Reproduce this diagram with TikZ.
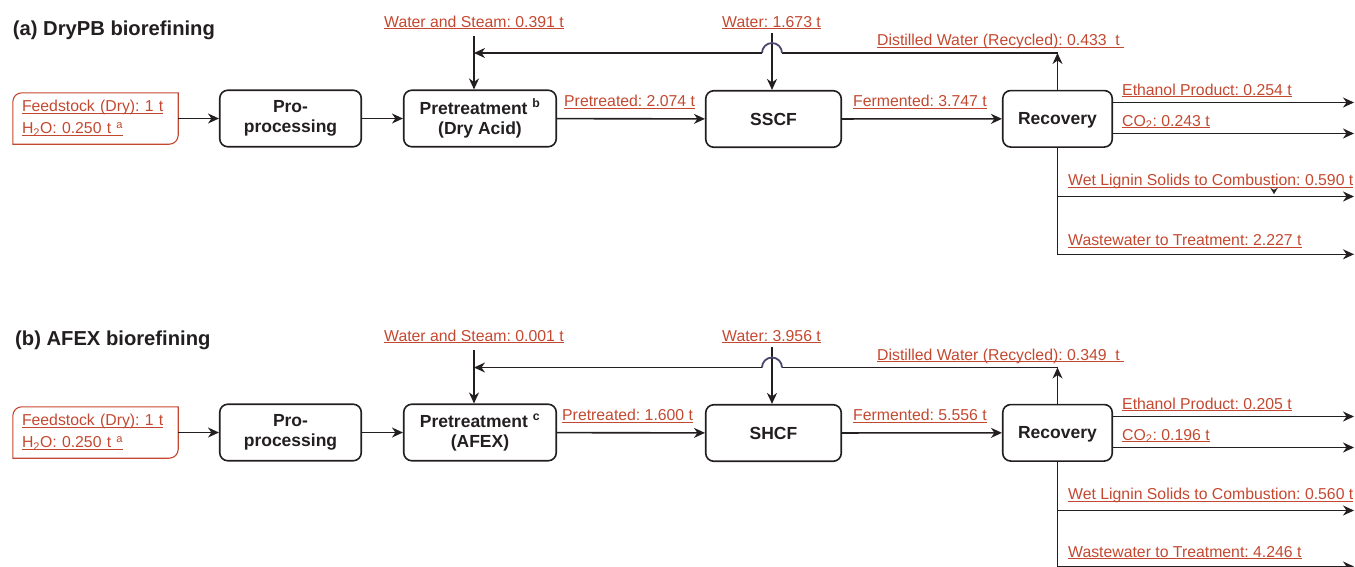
\documentclass[tikz,border=0pt]{standalone}
\usepackage{fontspec}
\setmainfont{Liberation Sans}
\usetikzlibrary{arrows.meta}
\frenchspacing

\definecolor{flowred}{RGB}{196,72,48}
\definecolor{boxdark}{RGB}{35,31,32}
\definecolor{hopblue}{RGB}{75,72,112}

\newcommand\flowtag[1]{\leavevmode\setbox0\hbox{#1}\rlap{\rule[-2.2pt]{\wd0}{0.9pt}}\box0}

\tikzset{
  unitbox/.style={draw=boxdark,line width=1.6pt,rounded corners=8pt,minimum height=56.5pt,inner sep=0pt,align=center,text=boxdark,font=\fontsize{17.5}{20}\selectfont\bfseries},
  feedbox/.style={inner xsep=9pt,inner ysep=0pt,minimum height=51pt,text width=147pt,align=left,text=flowred,font=\fontsize{15.8}{22}\selectfont},
  feedline/.style={draw=flowred,line width=1.1pt},
  flowtext/.style={anchor=base west,inner sep=0pt,text=flowred,font=\fontsize{15.8}{19}\selectfont},
  paneltitle/.style={anchor=base west,inner sep=0pt,text=boxdark,font=\fontsize{20.2}{24}\selectfont\bfseries},
  arr/.style={draw=boxdark,line width=1.6pt,-{Stealth[length=11pt,width=10pt,inset=3.5pt]}},
  pipe/.style={draw=boxdark,line width=1.6pt},
  hop/.style={draw=hopblue,line width=1.8pt},
  tick/.style={draw=boxdark,line width=0.01pt,-{Stealth[length=6pt,width=7pt]}}
}

\begin{document}
\begin{tikzpicture}[x=1pt,y=-1pt]

\useasboundingbox (0,0) rectangle (1355,566);

% (a) DryPB biorefining
\node[paneltitle]
(titleA)
at (12.7,35)
{(a) DryPB biorefining};

\node[feedbox]
(feedA)
at (95.5,118.5)
{\flowtag{Feedstock (Dry): 1 t}\\\flowtag{H\textsubscript{2}O: 0.250 t \textsuperscript{a}}};

\draw[feedline]
(feedA.north east)
-- ([xshift=9pt]feedA.north west)
arc[start angle=90,end angle=180,radius=9pt]
-- (feedA.south west)
-- ([xshift=-9pt]feedA.south east)
arc[start angle=270,end angle=360,radius=9pt]
-- cycle;

\node[unitbox,minimum width=141.5pt]
(proA)
at (290.5,118.5)
{Pro-\\processing};

\node[unitbox,minimum width=152.5pt]
(preA)
at (480,118.5)
{Pretreatment \textsuperscript{b}\\(Dry Acid)};

\node[unitbox,minimum width=135.5pt,text depth=0pt]
(sscfA)
at (773.5,119)
{SSCF};

\node[unitbox,minimum width=109.5pt,text depth=0pt]
(recA)
at (1057.5,118.8)
{Recovery};

\coordinate (steamA) at (474,36);
\coordinate (waterA) at (772,33);
\coordinate (loopA) at (1057.5,53);
\coordinate (hopRA) at (782,53);
\coordinate (hopLA) at (762,53);
\coordinate (ethA) at (1354,102.5);
\coordinate (coA) at (1354,133.5);
\coordinate (ligA) at (1354,196.5);
\coordinate (wasteA) at (1354,254.3);
\coordinate (strayTopA) at (1274,187.5);
\coordinate (strayTipA) at (1274,194);

\draw[arr] (feedA) -- (proA);
\draw[arr] (proA) -- (preA);
\draw[arr] (preA) -- (sscfA);
\draw[arr] (sscfA) -- (recA);

\draw[arr] (steamA) -- (steamA |- preA.north);
\draw[arr] (waterA) -- (waterA |- sscfA.north);

\draw[arr] (recA) -- (loopA);
\draw[pipe] (loopA) -- (hopRA);
\draw[hop] (hopRA) arc[start angle=0,end angle=180,radius=10pt];
\draw[arr] (hopLA) -- (steamA |- loopA);

\draw[arr] (recA.east |- ethA) -- (ethA);
\draw[arr] (recA.east |- coA) -- (coA);
\draw[arr] (recA.south) -- (recA.south |- wasteA) -- (wasteA);
\draw[arr] (recA.south |- ligA) -- (ligA);
\draw[tick] (strayTopA) -- (strayTipA);

\node[flowtext]
(steamLabA)
at (384,27)
{\flowtag{Water and Steam: 0.391 t}};

\node[flowtext]
(waterLabA)
at (722,27)
{\flowtag{Water: 1.673 t}};

\node[flowtext]
(loopLabA)
at (877,45.5)
{\flowtag{Distilled Water (Recycled): 0.433\ \ t\ }};

\node[flowtext]
(preLabA)
at (564,106.5)
{\flowtag{Pretreated: 2.074 t}};

\node[flowtext]
(fermLabA)
at (853,106.5)
{\flowtag{Fermented: 3.747 t}};

\node[flowtext]
(ethLabA)
at (1122,95)
{\flowtag{Ethanol Product: 0.254 t}};

\node[flowtext]
(coLabA)
at (1122,126)
{\flowtag{CO\textsubscript{2}: 0.243 t}};

\node[flowtext]
(ligLabA)
at (1068,185.5)
{\flowtag{Wet Lignin Solids to Combustion: 0.590 t}};

\node[flowtext]
(wasteLabA)
at (1068,245.5)
{\flowtag{Wastewater to Treatment: 2.227 t}};

% (b) AFEX biorefining
\begin{scope}[yshift=-314pt]

\node[paneltitle]
(titleB)
at (15,31)
{(b) AFEX biorefining};

\node[feedbox]
(feedB)
at (95.5,118.5)
{\flowtag{Feedstock (Dry): 1 t}\\\flowtag{H\textsubscript{2}O: 0.250 t \textsuperscript{a}}};

\draw[feedline]
(feedB.north east)
-- ([xshift=9pt]feedB.north west)
arc[start angle=90,end angle=180,radius=9pt]
-- (feedB.south west)
-- ([xshift=-9pt]feedB.south east)
arc[start angle=270,end angle=360,radius=9pt]
-- cycle;

\node[unitbox,minimum width=141.5pt]
(proB)
at (290.5,118.5)
{Pro-\\processing};

\node[unitbox,minimum width=152.5pt]
(preB)
at (480,118.5)
{Pretreatment \textsuperscript{c}\\(AFEX)};

\node[unitbox,minimum width=135.5pt,text depth=0pt]
(shcfB)
at (773.5,119)
{SHCF};

\node[unitbox,minimum width=109.5pt,text depth=0pt]
(recB)
at (1057.5,118.8)
{Recovery};

\coordinate (steamB) at (474,36);
\coordinate (waterB) at (772,33);
\coordinate (loopB) at (1057.5,53.5);
\coordinate (hopRB) at (782,53.5);
\coordinate (hopLB) at (762,53.5);
\coordinate (ethB) at (1354,102.5);
\coordinate (coB) at (1354,133.5);
\coordinate (ligB) at (1354,196.5);
\coordinate (wasteB) at (1354,252.5);

\draw[arr] (feedB) -- (proB);
\draw[arr] (proB) -- (preB);
\draw[arr] (preB) -- (shcfB);
\draw[arr] (shcfB) -- (recB);

\draw[arr] (steamB) -- (steamB |- preB.north);
\draw[arr] (waterB) -- (waterB |- shcfB.north);

\draw[arr] (recB) -- (loopB);
\draw[pipe] (loopB) -- (hopRB);
\draw[hop] (hopRB) arc[start angle=0,end angle=180,radius=10pt];
\draw[arr] (hopLB) -- (steamB |- loopB);

\draw[arr] (recB.east |- ethB) -- (ethB);
\draw[arr] (recB.east |- coB) -- (coB);
\draw[arr] (recB.south) -- (recB.south |- wasteB) -- (wasteB);
\draw[arr] (recB.south |- ligB) -- (ligB);

\node[flowtext]
(steamLabB)
at (384,27)
{\flowtag{Water and Steam: 0.001 t}};

\node[flowtext]
(waterLabB)
at (722,27)
{\flowtag{Water: 3.956 t}};

\node[flowtext]
(loopLabB)
at (877,46)
{\flowtag{Distilled Water (Recycled): 0.349\ \ t\ }};

\node[flowtext]
(preLabB)
at (562,106.5)
{\flowtag{Pretreated: 1.600 t}};

\node[flowtext]
(fermLabB)
at (853,106.5)
{\flowtag{Fermented: 5.556 t}};

\node[flowtext]
(ethLabB)
at (1122,95)
{\flowtag{Ethanol Product: 0.205 t}};

\node[flowtext]
(coLabB)
at (1122,126)
{\flowtag{CO\textsubscript{2}: 0.196 t}};

\node[flowtext]
(ligLabB)
at (1068,185.5)
{\flowtag{Wet Lignin Solids to Combustion: 0.560 t}};

\node[flowtext]
(wasteLabB)
at (1068,243)
{\flowtag{Wastewater to Treatment: 4.246 t}};

\end{scope}

\end{tikzpicture}
\end{document}
